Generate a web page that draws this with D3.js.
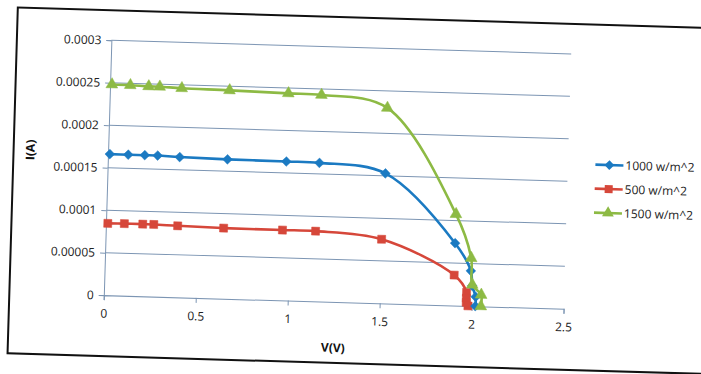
<!DOCTYPE html>
<html><head><meta charset="utf-8">
<script src="https://cdn.jsdelivr.net/npm/d3@7"></script>
<style>body{margin:0;background:#fff}svg{display:block}text{font-family:"Open Sans",sans-serif}</style>
</head><body>
<script>
// ---- data ----
const seriesNames = ["1000 w/m^2", "500 w/m^2", "1500 w/m^2"];
const v1000 = [0.01, 0.11, 0.20, 0.27, 0.39, 0.65, 0.97, 1.15, 1.51, 1.90, 1.99, 2.00, 2.02, 2.02];
const i1000 = [0.000166, 0.000166, 0.000166, 0.000166, 0.000165, 0.000164, 0.0001635, 0.000163, 0.000153, 0.0000733, 0.0000413, 0.0000238, 0.000011, 0];
const v500 = [0.01, 0.10, 0.20, 0.26, 0.39, 0.64, 0.96, 1.14, 1.50, 1.90, 1.97, 1.97, 1.97, 1.98];
const i500 = [0.0000845, 0.0000848, 0.0000848, 0.0000848, 0.0000841, 0.000083, 0.0000828, 0.0000826, 0.0000754, 0.0000358, 0.000016, 0.000009, 0.000004, 0];
const v1500 = [0.01, 0.11, 0.21, 0.27, 0.39, 0.65, 0.97, 1.15, 1.51, 1.90, 1.99, 2.00, 2.05, 2.05];
const i1500 = [0.000248, 0.0002478, 0.000247, 0.000247, 0.000246, 0.0002452, 0.0002437, 0.000243, 0.00023, 0.0001075, 0.0000563, 0.000025, 0.0000135, 0];
const xTicks = [0, 0.5, 1, 1.5, 2, 2.5];
const xTickLabels = ["0", "0.5", "1", "1.5", "2", "2.5"];
const yTicks = [0, 0.00005, 0.0001, 0.00015, 0.0002, 0.00025, 0.0003];
const yTickLabels = ["0", "0.00005", "0.0001", "0.00015", "0.0002", "0.00025", "0.0003"];
const colors = ["#1b7ac2", "#d6473a", "#8dba44"];
const shapes = [d3.symbolDiamond2, d3.symbolSquare, d3.symbolTriangle];

const W = 701, H = 374;
const L = 107.5, T = 47, PW = 460, PH = 255;
const svg = d3.select("body").append("svg").attr("width", W).attr("height", H);
const g = svg.append("g").attr("transform", "rotate(1.7,337.5,174.5)");

// frame
g.append("rect").attr("x", 13).attr("y", 17).attr("width", 800).attr("height", 346)
  .attr("fill", "#fff").attr("stroke", "#111").attr("stroke-width", 2);

const x = d3.scaleLinear().domain([0, 2.5]).range([L, L + PW]);
const y = d3.scaleLinear().domain([0, 0.0003]).range([T + PH, T]);

// gridlines
g.append("g").selectAll("line").data(yTicks.slice(1)).join("line")
  .attr("x1", L).attr("x2", L + PW).attr("y1", d => y(d)).attr("y2", d => y(d))
  .attr("stroke", "#7c95b3").attr("stroke-width", 1);

// axes
const xAxis = d3.axisBottom(x).tickValues(xTicks).tickFormat((d, i) => xTickLabels[i]).tickSize(5).tickPadding(9);
const yAxis = d3.axisLeft(y).tickValues(yTicks).tickFormat((d, i) => yTickLabels[i]).tickSize(5).tickPadding(5);
const gx = g.append("g").attr("transform", `translate(0,${T + PH})`).call(xAxis);
const gy = g.append("g").attr("transform", `translate(${L},0)`).call(yAxis);
[gx, gy].forEach(a => {
  a.select(".domain").attr("stroke", "#7c95b3").attr("stroke-width", 1);
  a.selectAll(".tick line").attr("stroke", "#7c95b3");
  a.selectAll("text").attr("fill", "#222").attr("font-size", 12);
});

// series
const data = [[v1000, i1000], [v500, i500], [v1500, i1500]];
const line = d3.line().x(d => x(d[0])).y(d => y(d[1])).curve(d3.curveCatmullRom.alpha(0.5));
const order = [1, 0, 2];
order.forEach(k => {
  const pts = data[k][0].map((v, i) => [v, data[k][1][i]]);
  g.append("path").datum(pts).attr("d", line).attr("fill", "none")
    .attr("stroke", colors[k]).attr("stroke-width", 2.6);
  g.append("g").selectAll("path").data(pts).join("path")
    .attr("transform", d => `translate(${x(d[0])},${y(d[1])})`)
    .attr("d", d3.symbol().type(shapes[k]).size(k === 1 ? 64 : 60))
    .attr("fill", colors[k]).attr("stroke", colors[k]).attr("stroke-width", 0.5);
});

// legend
seriesNames.forEach((n, k) => {
  const ly = 157 + k * 24;
  const lg = g.append("g");
  lg.append("line").attr("x1", 595).attr("x2", 623).attr("y1", ly).attr("y2", ly)
    .attr("stroke", colors[k]).attr("stroke-width", 2.6);
  lg.append("path").attr("transform", `translate(609,${ly})`)
    .attr("d", d3.symbol().type(shapes[k]).size(k === 1 ? 64 : 60)).attr("fill", colors[k]);
  lg.append("text").attr("x", 625).attr("y", ly).attr("dy", "0.35em")
    .attr("font-size", 12).attr("fill", "#222").text(n);
});

// axis titles
g.append("text").attr("x", 338).attr("y", 352).attr("text-anchor", "middle")
  .attr("font-size", 12).attr("font-weight", "bold").attr("fill", "#111").text("V(V)");
g.append("text").attr("transform", "translate(34,159) rotate(-90)").attr("text-anchor", "middle")
  .attr("font-size", 12).attr("font-weight", "bold").attr("fill", "#111").text("I(A)");
</script>
</body></html>
